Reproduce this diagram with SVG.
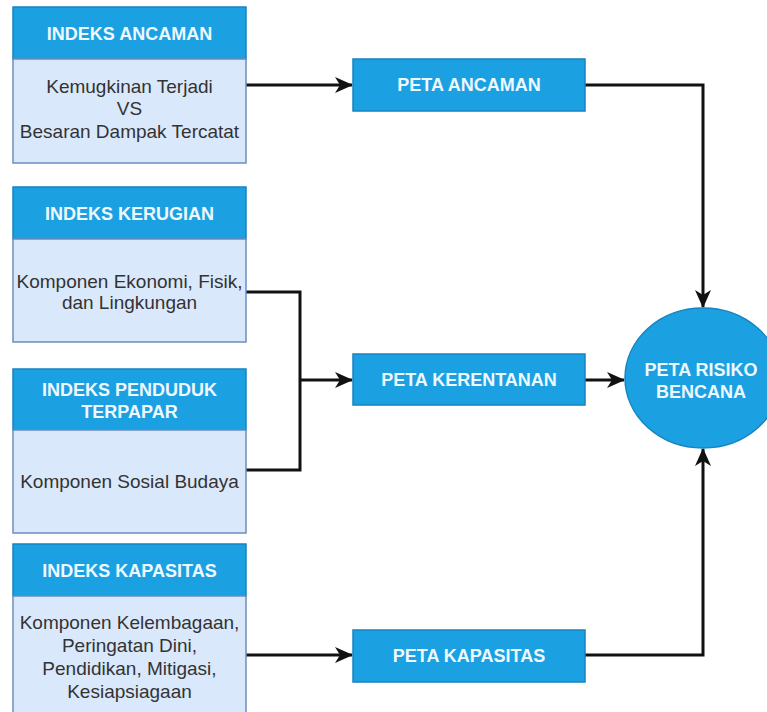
<svg xmlns="http://www.w3.org/2000/svg" width="767" height="712" viewBox="0 0 767 712">
<defs>
<style>
.hd{fill:#1ba1e2;stroke:#1783c2;stroke-width:1.5}
.bd{fill:#dae8fc;stroke:#6c8ebf;stroke-width:1.5}
.ht{font-family:"Liberation Sans",Arial,sans-serif;font-size:18px;font-weight:bold;fill:#eef8ff;text-anchor:middle}
.bt{font-family:"Liberation Sans",Arial,sans-serif;font-size:19px;fill:#333333;text-anchor:middle}
.ln{fill:none;stroke:#111111;stroke-width:3}
.ar{fill:none;stroke:#111111;stroke-width:3;marker-end:url(#arr)}
</style>
<marker id="arr" markerUnits="userSpaceOnUse" viewBox="0 0 18 16" markerWidth="18" markerHeight="16" refX="17" refY="8" orient="auto">
<path d="M0,0 L18,8 L0,16 L5,8 Z" fill="#111111"/>
</marker>
</defs>
<rect width="767" height="712" fill="#ffffff"/>

<g id="connectors">
<path class="ar" d="M246,85 H352"/>
<path class="ln" d="M246,292 H300 V470 H246"/>
<path class="ar" d="M300,380 H352"/>
<path class="ar" d="M246,655 H352"/>
<path class="ar" d="M585,380 H624"/>
<path class="ar" d="M585,85 H703 V307"/>
<path class="ar" d="M585,655 H703 V449"/>
</g>

<g id="indeks-ancaman">
<rect class="hd" x="13" y="7" width="233" height="52"/>
<text class="ht" x="129.5" y="39.5">INDEKS ANCAMAN</text>
<rect class="bd" x="13" y="59" width="233" height="104"/>
<text class="bt" x="129.5" y="93">Kemugkinan Terjadi</text>
<text class="bt" x="129.5" y="115">VS</text>
<text class="bt" x="129.5" y="138">Besaran Dampak Tercatat</text>
</g>

<g id="indeks-kerugian">
<rect class="hd" x="13" y="187" width="233" height="52"/>
<text class="ht" x="129.5" y="219.5">INDEKS KERUGIAN</text>
<rect class="bd" x="13" y="239" width="233" height="103"/>
<text class="bt" x="129.5" y="288">Komponen Ekonomi, Fisik,</text>
<text class="bt" x="129.5" y="309">dan Lingkungan</text>
</g>

<g id="indeks-penduduk">
<rect class="hd" x="13" y="369" width="233" height="61"/>
<text class="ht" x="129.5" y="396">INDEKS PENDUDUK</text>
<text class="ht" x="129.5" y="418">TERPAPAR</text>
<rect class="bd" x="13" y="430" width="233" height="103"/>
<text class="bt" x="129.5" y="488">Komponen Sosial Budaya</text>
</g>

<g id="indeks-kapasitas">
<rect class="hd" x="13" y="544" width="233" height="52"/>
<text class="ht" x="129.5" y="576.5">INDEKS KAPASITAS</text>
<rect class="bd" x="13" y="596" width="233" height="120"/>
<text class="bt" x="129.5" y="629">Komponen Kelembagaan,</text>
<text class="bt" x="129.5" y="652">Peringatan Dini,</text>
<text class="bt" x="129.5" y="675">Pendidikan, Mitigasi,</text>
<text class="bt" x="129.5" y="698">Kesiapsiagaan</text>
</g>

<g id="peta-ancaman">
<rect class="hd" x="353" y="59" width="232" height="52"/>
<text class="ht" x="469" y="91">PETA ANCAMAN</text>
</g>

<g id="peta-kerentanan">
<rect class="hd" x="353" y="354" width="232" height="51"/>
<text class="ht" x="469" y="386">PETA KERENTANAN</text>
</g>

<g id="peta-kapasitas">
<rect class="hd" x="353" y="630" width="232" height="52"/>
<text class="ht" x="469" y="662">PETA KAPASITAS</text>
</g>

<g id="peta-risiko">
<ellipse class="hd" cx="703" cy="378" rx="78" ry="70"/>
<text class="ht" x="701" y="376">PETA RISIKO</text>
<text class="ht" x="701" y="398">BENCANA</text>
</g>
</svg>
